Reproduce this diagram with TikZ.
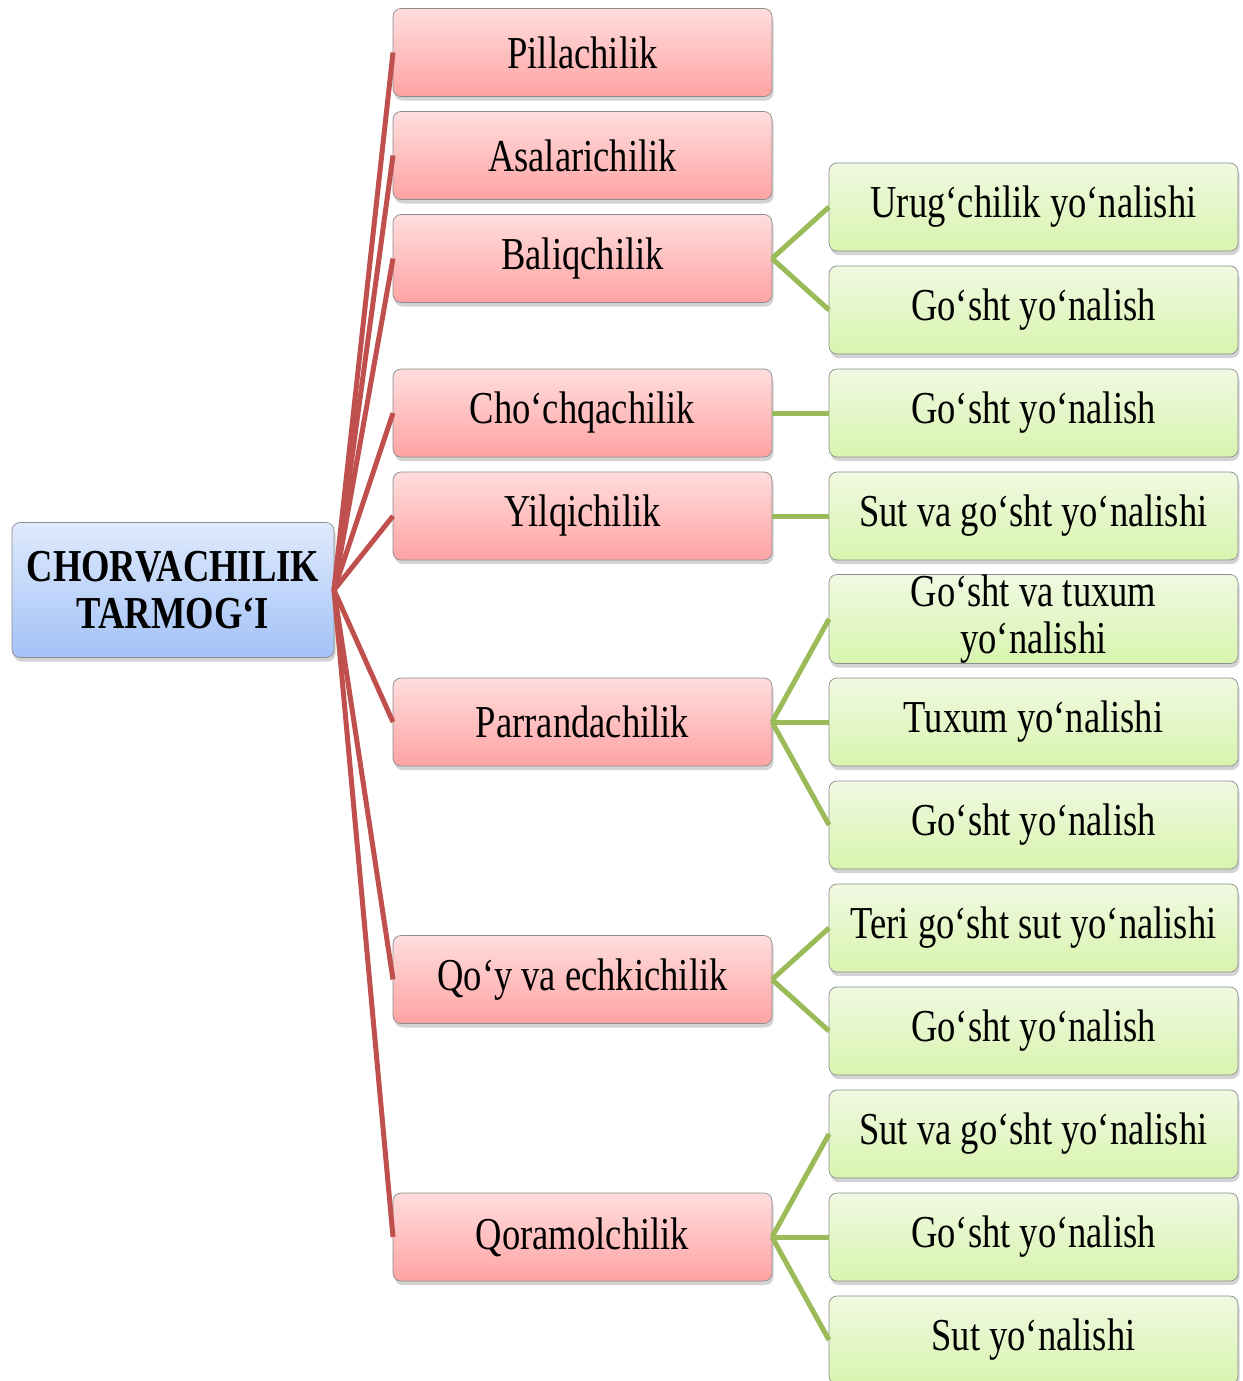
\documentclass[tikz,border=0pt]{standalone}
\usepackage{fontspec}
\setmainfont{Liberation Serif}[FakeStretch=0.8]
\usepackage{tikz}
\usetikzlibrary{shadows,positioning}

\definecolor{linered}{HTML}{C0504D}
\definecolor{linegreen}{HTML}{9BBB59}
\definecolor{redtop}{HTML}{FFDDDD}
\definecolor{redbot}{HTML}{FFA3A3}
\definecolor{greentop}{HTML}{F0F9E2}
\definecolor{greenbot}{HTML}{D8F4AE}
\definecolor{bluetop}{HTML}{DFEAFC}
\definecolor{bluebot}{HTML}{A3C2F8}

\begin{document}
\begin{tikzpicture}[node distance=2.06cm,
                    font=\fontsize{26}{27}\selectfont,
  box/.style={rectangle,rounded corners=0.16cm,draw=black!45,thin,align=center,
              minimum height=1.76cm,inner sep=0pt,outer sep=0pt,
              drop shadow={shadow xshift=0.03cm,shadow yshift=-0.08cm,opacity=0.35}},
  root/.style={box,minimum width=6.44cm,minimum height=2.70cm,
               top color=bluetop,bottom color=bluebot,
               font=\fontsize{26}{27}\selectfont\bfseries},
  branch/.style={box,minimum width=7.58cm,top color=redtop,bottom color=redbot},
  leaf/.style={box,minimum width=8.18cm,top color=greentop,bottom color=greenbot},
  redline/.style={draw=linered,line width=0.1cm},
  greenline/.style={draw=linegreen,line width=0.1cm}]

  \useasboundingbox (0,0) rectangle (24.86,-27.62);

  \node[root]  (CT) at (3.46,-11.8) {CHORVACHILIK\\TARMOG‘I};

  \node[leaf]  (G1) at (20.67,-4.14)  {Urug‘chilik yo‘nalishi};
  \node[leaf]  (G2)  [below of=G1]  {Go‘sht yo‘nalish};
  \node[leaf]  (G3)  [below of=G2]  {Go‘sht yo‘nalish};
  \node[leaf]  (G4)  [below of=G3]  {Sut va go‘sht yo‘nalishi};
  \node[leaf]  (G5)  [below of=G4]  {Go‘sht va tuxum\\yo‘nalishi};
  \node[leaf]  (G6)  [below of=G5]  {Tuxum yo‘nalishi};
  \node[leaf]  (G7)  [below of=G6]  {Go‘sht yo‘nalish};
  \node[leaf]  (G8)  [below of=G7]  {Teri go‘sht sut yo‘nalishi};
  \node[leaf]  (G9)  [below of=G8]  {Go‘sht yo‘nalish};
  \node[leaf]  (G10) [below of=G9]  {Sut va go‘sht yo‘nalishi};
  \node[leaf]  (G11) [below of=G10] {Go‘sht yo‘nalish};
  \node[leaf]  (G12) [below of=G11] {Sut yo‘nalishi};

  \node[branch] (Baliq)  [left of=G1,node distance=9.02cm,yshift=-1.03cm] {Baliqchilik};
  \node[branch] (Asal)   [above of=Baliq] {Asalarichilik};
  \node[branch] (Pilla)  [above of=Asal]  {Pillachilik};
  \node[branch] (Chochqa)[left of=G3,node distance=9.02cm]  {Cho‘chqachilik};
  \node[branch] (Yilqi)  [left of=G4,node distance=9.02cm]  {Yilqichilik};
  \node[branch] (Parranda)[left of=G6,node distance=9.02cm] {Parrandachilik};
  \node[branch] (Qoy)    [left of=G8,node distance=9.02cm,yshift=-1.03cm] {Qo‘y va echkichilik};
  \node[branch] (Qoramol)[left of=G11,node distance=9.02cm] {Qoramolchilik};

  \path[redline] (CT.east) edge (Pilla.west)
                           edge (Asal.west)
                           edge (Baliq.west)
                           edge (Chochqa.west)
                           edge (Yilqi.west)
                           edge (Parranda.west)
                           edge (Qoy.west)
                           edge (Qoramol.west);

  \path[greenline] (Baliq.east) edge (G1.west)
                                edge (G2.west)
                   (Chochqa.east) edge (G3.west)
                   (Yilqi.east) edge (G4.west)
                   (Parranda.east) edge (G5.west)
                                   edge (G6.west)
                                   edge (G7.west)
                   (Qoy.east) edge (G8.west)
                              edge (G9.west)
                   (Qoramol.east) edge (G10.west)
                                  edge (G11.west)
                                  edge (G12.west);
\end{tikzpicture}
\end{document}
